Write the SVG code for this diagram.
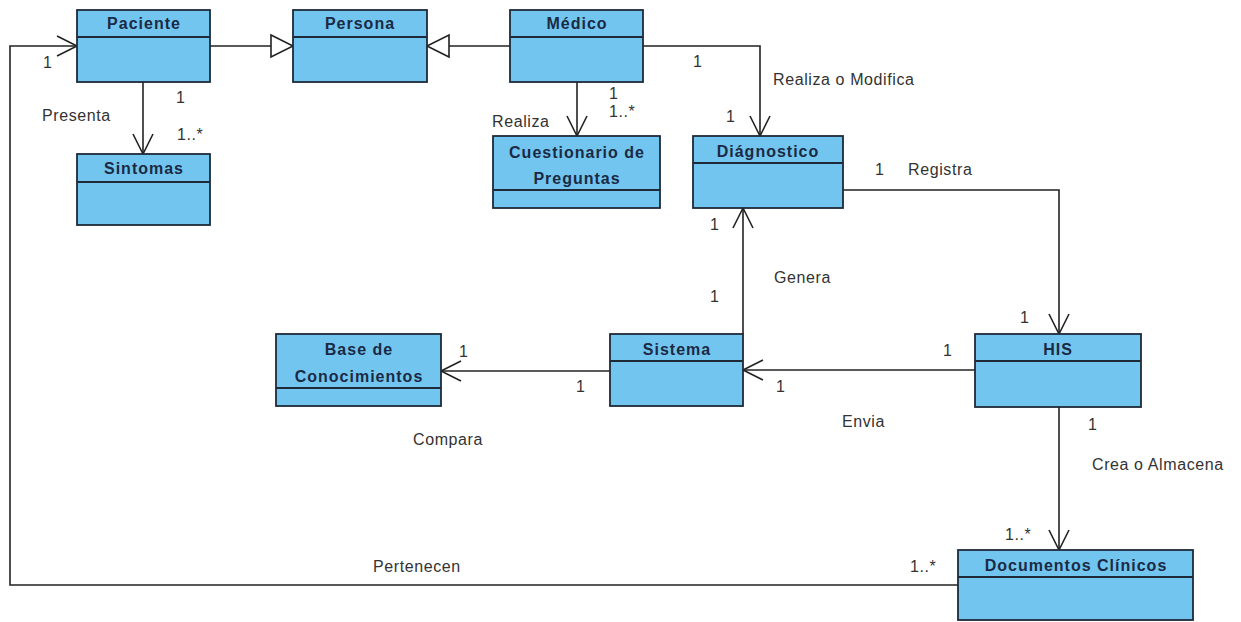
<svg xmlns="http://www.w3.org/2000/svg" width="1241" height="622" viewBox="0 0 1241 622">
<style>
.box{fill:#72c5ef;stroke:#1e2a38;stroke-width:1.8}
.div{stroke:#1e2a38;stroke-width:1.8}
.name{font-family:"Liberation Sans",Arial,sans-serif;font-weight:bold;font-size:16px;letter-spacing:1px;fill:#1b2a44;text-anchor:middle}
.lbl{font-family:"Liberation Sans",Arial,sans-serif;font-size:16px;letter-spacing:0.6px;fill:#333}
.con{fill:none;stroke:#222;stroke-width:1.6}
</style>
<defs>
<marker id="open" markerUnits="userSpaceOnUse" markerWidth="24" markerHeight="24" viewBox="-22 -12 24 24" refX="0" refY="0" orient="auto">
<path d="M-20,-10 L0,0 L-20,10" fill="none" stroke="#222" stroke-width="1.6"/>
</marker>
<marker id="tri" markerUnits="userSpaceOnUse" markerWidth="26" markerHeight="26" viewBox="-24 -13 26 26" refX="0" refY="0" orient="auto">
<path d="M-22,-11 L0,0 L-22,11 Z" fill="#fff" stroke="#222" stroke-width="1.6"/>
</marker>
</defs>
<rect width="1241" height="622" fill="#fff"/>
<g id="connectors">
<path class="con" d="M210,46 H293" marker-end="url(#tri)"/>
<path class="con" d="M510,46 H427" marker-end="url(#tri)"/>
<path class="con" d="M143,82 V154" marker-end="url(#open)"/>
<path class="con" d="M577,82 V136" marker-end="url(#open)"/>
<path class="con" d="M643,46 H760 V136" marker-end="url(#open)"/>
<path class="con" d="M843,190 H1059 V334" marker-end="url(#open)"/>
<path class="con" d="M743,334 V208" marker-end="url(#open)"/>
<path class="con" d="M975,370 H743" marker-end="url(#open)"/>
<path class="con" d="M610,371 H441" marker-end="url(#open)"/>
<path class="con" d="M1059,407 V550" marker-end="url(#open)"/>
<path class="con" d="M958,585 H10 V46 H77" marker-end="url(#open)"/>
</g>
<g id="labels">
<text class="lbl" x="43" y="68">1</text>
<text class="lbl" x="42" y="121">Presenta</text>
<text class="lbl" x="176" y="103">1</text>
<text class="lbl" x="177" y="140">1..*</text>
<text class="lbl" x="609" y="99">1</text>
<text class="lbl" x="609" y="117">1..*</text>
<text class="lbl" x="492" y="127">Realiza</text>
<text class="lbl" x="726" y="122">1</text>
<text class="lbl" x="693" y="67">1</text>
<text class="lbl" x="773" y="85">Realiza o Modifica</text>
<text class="lbl" x="875" y="175">1</text>
<text class="lbl" x="908" y="175">Registra</text>
<text class="lbl" x="710" y="230">1</text>
<text class="lbl" x="710" y="302">1</text>
<text class="lbl" x="774" y="283">Genera</text>
<text class="lbl" x="1020" y="323">1</text>
<text class="lbl" x="943" y="356">1</text>
<text class="lbl" x="776" y="392">1</text>
<text class="lbl" x="842" y="427">Envia</text>
<text class="lbl" x="459" y="357">1</text>
<text class="lbl" x="576" y="392">1</text>
<text class="lbl" x="413" y="445">Compara</text>
<text class="lbl" x="373" y="572">Pertenecen</text>
<text class="lbl" x="910" y="572">1..*</text>
<text class="lbl" x="1005" y="540">1..*</text>
<text class="lbl" x="1088" y="430">1</text>
<text class="lbl" x="1092" y="470">Crea o Almacena</text>
</g>
<g id="paciente">
<rect class="box" x="77" y="10" width="133" height="72"/>
<line class="div" x1="77" y1="37" x2="210" y2="37"/>
<text class="name" x="144" y="29">Paciente</text>
</g>
<g id="persona">
<rect class="box" x="293" y="10" width="134" height="72"/>
<line class="div" x1="293" y1="37" x2="427" y2="37"/>
<text class="name" x="360" y="29">Persona</text>
</g>
<g id="medico">
<rect class="box" x="510" y="10" width="133" height="72"/>
<line class="div" x1="510" y1="37" x2="643" y2="37"/>
<text class="name" x="577" y="29">Médico</text>
</g>
<g id="sintomas">
<rect class="box" x="77" y="154" width="133" height="71"/>
<line class="div" x1="77" y1="182" x2="210" y2="182"/>
<text class="name" x="144" y="174">Sintomas</text>
</g>
<g id="cuestionario">
<rect class="box" x="493" y="136" width="167" height="72"/>
<line class="div" x1="493" y1="190" x2="660" y2="190"/>
<text class="name" x="577" y="158">Cuestionario de</text>
<text class="name" x="577" y="184">Preguntas</text>
</g>
<g id="diagnostico">
<rect class="box" x="693" y="136" width="150" height="72"/>
<line class="div" x1="693" y1="163" x2="843" y2="163"/>
<text class="name" x="768" y="157">Diágnostico</text>
</g>
<g id="base">
<rect class="box" x="276" y="334" width="165" height="72"/>
<line class="div" x1="276" y1="388" x2="441" y2="388"/>
<text class="name" x="359" y="355">Base de</text>
<text class="name" x="359" y="382">Conocimientos</text>
</g>
<g id="sistema">
<rect class="box" x="610" y="334" width="133" height="72"/>
<line class="div" x1="610" y1="361" x2="743" y2="361"/>
<text class="name" x="677" y="355">Sistema</text>
</g>
<g id="his">
<rect class="box" x="975" y="334" width="166" height="73"/>
<line class="div" x1="975" y1="361" x2="1141" y2="361"/>
<text class="name" x="1058" y="355">HIS</text>
</g>
<g id="documentos">
<rect class="box" x="958" y="550" width="235" height="70"/>
<line class="div" x1="958" y1="577" x2="1193" y2="577"/>
<text class="name" x="1076" y="571">Documentos Clínicos</text>
</g>
</svg>
